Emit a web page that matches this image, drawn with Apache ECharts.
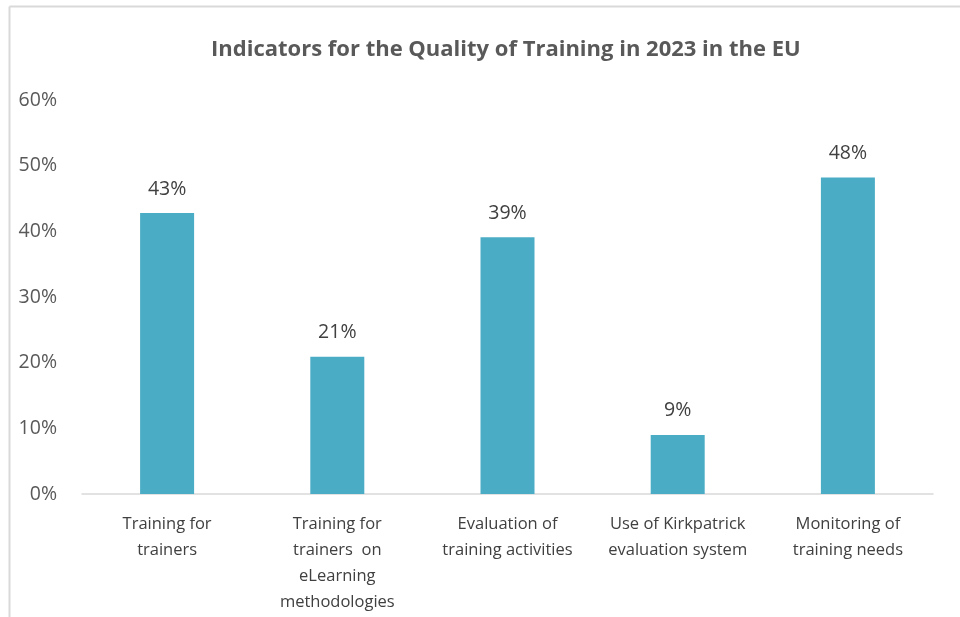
<!doctype html>
<html>
<head>
<meta charset="UTF-8">
<title>Indicators for the Quality of Training</title>
<script src="https://cdn.jsdelivr.net/npm/echarts@6/dist/echarts.min.js"></script>
<style>
  html, body { margin: 0; padding: 0; background: #fff; }
  #main { width: 960px; height: 617px; }
</style>
</head>
<body>
<div id="main"></div>
<script>
// data
var categories = [
  'Training for\ntrainers',
  'Training for\ntrainers  on\neLearning\nmethodologies',
  'Evaluation of\ntraining activities',
  'Use of Kirkpatrick\nevaluation system',
  'Monitoring of\ntraining needs'
];
var values = [42.8, 20.9, 39.1, 9.0, 48.2];
var yTicks = [0, 10, 20, 30, 40, 50, 60];

var font = '"Open Sans", "Noto Sans", sans-serif';
var chart = echarts.init(document.getElementById('main'));

var option = {
  backgroundColor: '#fff',
  animation: false,
  title: {
    text: 'Indicators for the Quality of Training in 2023 in the EU',
    left: 206,
    top: 34,
    textStyle: { fontFamily: font, fontSize: 22, fontWeight: 'bold', color: '#595959' }
  },
  graphic: [
    { type: 'line', shape: { x1: 9.5, y1: 6.5, x2: 960, y2: 6.5 }, style: { stroke: '#d9d9d9', lineWidth: 2 } },
    { type: 'line', shape: { x1: 9.5, y1: 6.5, x2: 9.5, y2: 617 }, style: { stroke: '#d9d9d9', lineWidth: 2 } }
  ],
  grid: { left: 82, right: 27, top: 100, bottom: 123, containLabel: false },
  xAxis: {
    type: 'category',
    data: categories,
    axisLine: { lineStyle: { color: '#d9d9d9', width: 1.5 } },
    axisTick: { show: false },
    axisLabel: {
      interval: 0,
      margin: 17,
      fontFamily: font,
      fontSize: 16.5,
      lineHeight: 26,
      color: '#404040'
    }
  },
  yAxis: {
    type: 'value',
    min: yTicks[0],
    max: yTicks[yTicks.length - 1],
    interval: 10,
    axisLine: { show: false },
    axisTick: { show: false },
    splitLine: { show: false },
    axisLabel: {
      margin: 25,
      fontFamily: font,
      fontSize: 19.5,
      color: '#595959',
      formatter: function (v) { return v + '%'; }
    }
  },
  series: [{
    type: 'bar',
    data: values,
    barWidth: 54,
    itemStyle: { color: '#4BACC6' },
    label: {
      show: true,
      position: 'top',
      distance: 14,
      fontFamily: font,
      fontSize: 19.5,
      color: '#404040',
      formatter: function (p) { return Math.round(p.value) + '%'; }
    }
  }]
};
chart.setOption(option);
</script>
</body>
</html>
